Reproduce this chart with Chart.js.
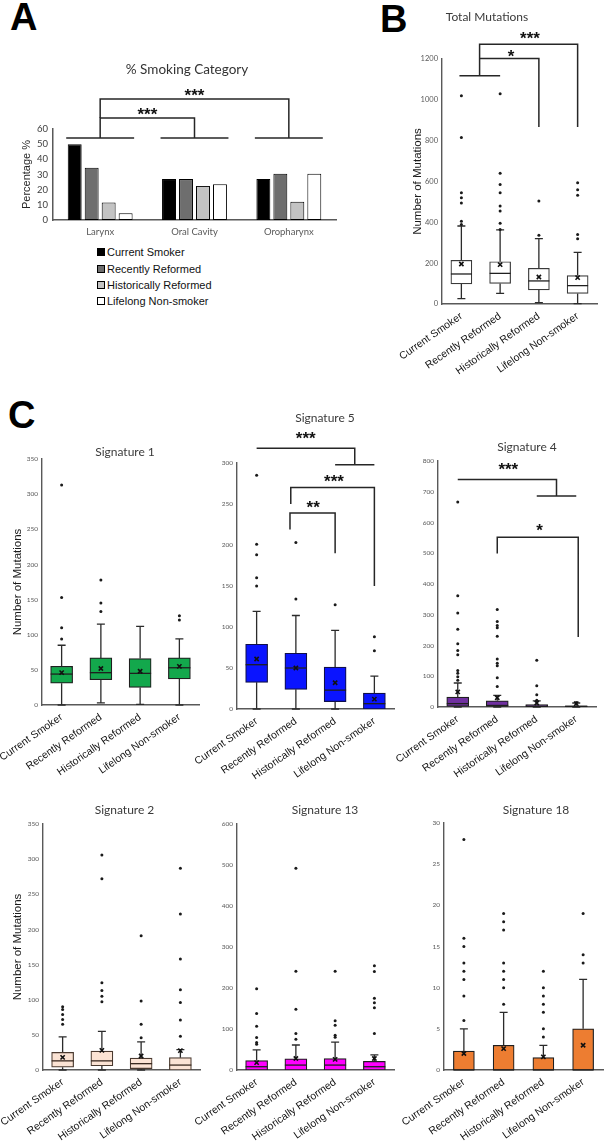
<!DOCTYPE html>
<html><head><meta charset="utf-8">
<script src="https://cdn.jsdelivr.net/npm/chart.js@4.4.1/dist/chart.umd.min.js"></script>
<style>
body{margin:0;width:605px;height:1148px;position:relative;background:#fff;overflow:hidden;font-family:'Liberation Sans',Arial,sans-serif}
canvas.c{position:absolute}
.letter{position:absolute;font:bold 38px/38px 'Liberation Sans',Arial,sans-serif;color:#000}
#legA{position:absolute;left:97px;top:244px;font:11px 'Liberation Sans',Arial,sans-serif;color:#111}
#legA .row{height:16.4px;display:flex;align-items:center;white-space:nowrap}
#legA .sq{width:6px;height:6px;border:1px solid #000;margin-right:2px;flex:none}
</style></head><body>
<div class="letter" style="left:10px;top:-2px">A</div>
<div class="letter" style="left:380px;top:0px">B</div>
<div class="letter" style="left:8px;top:396px">C</div>
<div id="legA"></div>
<script>
// ---------- DATA ----------
const groups = ['Current Smoker', 'Recently Reformed', 'Historically Reformed', 'Lifelong Non-smoker'];
const groupColorsA = ['#000000', '#6e6e6e', '#c3c3c3', '#ffffff'];

// Panel A: % smoking category per site
const sites = ['Larynx', 'Oral Cavity', 'Oropharynx'];
const pctCurrent = [50, 27, 27];
const pctRecently = [34.5, 27, 30.5];
const pctHistorically = [11.5, 22.5, 12];
const pctLifelong = [4.5, 23.5, 30.5];

// Panel B: Total mutations
const totMin = [26, 52, 7, 2];
const totQ1 = [98, 101, 69, 52];
const totMedian = [147, 150, 113, 90];
const totQ3 = [214, 207, 175, 139];
const totMax = [382, 363, 320, 253];
const totMean = [196, 193, 132, 129];
const totOutliers = [[1020, 815, 545, 520, 495, 405, 390], [1030, 640, 585, 545, 480, 455, 395, 365], [505, 337], [594, 559, 533, 341, 320]];

// Signature 1
const s1Min = [0, 3, 1, 0];
const s1Q1 = [31, 36, 25, 37];
const s1Median = [44, 46, 45, 53];
const s1Q3 = [55, 67, 66, 67];
const s1Max = [85, 115, 112, 94];
const s1Mean = [46, 52, 48, 55];
const s1Outliers = [[313, 153, 110, 94], [178, 145, 133], [], [127, 121]];

// Signature 5
const s5Min = [0, 0, 0, 0];
const s5Q1 = [32.5, 24, 9, 0];
const s5Median = [54, 50, 23, 6.5];
const s5Q3 = [79, 68, 51, 19.5];
const s5Max = [119, 114, 96, 40];
const s5Mean = [61, 50, 32, 12];
const s5Outliers = [[285, 201, 188, 160, 150], [203, 134], [127], [88, 71]];

// Signature 4
const s4Min = [0, 0, 0, 0];
const s4Q1 = [2, 2, 1, 1];
const s4Median = [11, 5, 3, 2];
const s4Q3 = [32, 20, 8, 4];
const s4Max = [78, 38, 20, 13];
const s4Mean = [49, 30, 13, 11];
const s4Outliers = [[667, 362, 306, 253, 206, 184, 170, 119, 110, 98, 87], [317, 278, 265, 258, 230, 156, 142, 134, 95, 67], [152, 69, 40, 22], [15]];

// Signature 2
const s2Min = [0, 0, 0, 0];
const s2Q1 = [4, 6, 2, 0];
const s2Median = [13, 13, 9, 7];
const s2Q3 = [25, 27, 17, 17.5];
const s2Max = [47, 55, 40, 29];
const s2Mean = [18, 28, 20, 27.5];
const s2Outliers = [[90, 86, 79, 72, 65], [306, 272, 124, 113, 105, 97], [191, 98, 65, 46], [287, 222, 158, 114, 96, 71, 48]];

// Signature 13
const s13Min = [0, 0, 0, 0];
const s13Q1 = [0, 0, 0, 0];
const s13Median = [8, 12, 12, 8];
const s13Q3 = [23, 27, 28, 21];
const s13Max = [49, 61, 68, 37];
const s13Mean = [18, 28, 26, 28];
const s13Outliers = [[198, 138, 107, 79, 67, 63], [492, 241, 148, 89, 75], [241, 120, 109, 85, 80], [254, 240, 175, 164, 152, 89]];

// Signature 18
const s18Min = [0, 0, 0, 0];
const s18Q1 = [0, 0, 0, 0];
const s18Median = [0, 0, 0, 0];
const s18Q3 = [2.3, 3, 1.5, 5];
const s18Max = [5, 7, 3, 11];
const s18Mean = [2, 2.6, 1.6, 3];
const s18Outliers = [[28, 16, 15, 13, 12, 11, 9, 6], [19, 18, 17, 13, 12, 11, 10, 8], [12, 10, 9, 8, 7, 5, 4], [19, 14, 13]];

// significance brackets: polylines in (category index, value) units, and star labels
const bracketsA = [[[-0.36, 54], [0.36, 54]], [[0.64, 54], [1.36, 54]], [[1.64, 54], [2.36, 54]],
  [[0, 54], [0, 67.3], [1, 67.3], [1, 54]], [[0, 67.3], [0, 79.8], [2, 79.8], [2, 54]]];
const starsA = [['***', 0.5, 72.5], ['***', 1, 85]];
const bracketsB = [[[-0.05, 1118], [1.0, 1118]], [[0.47, 1118], [0.47, 1272], [3, 1272], [3, 867]], [[0.47, 1203], [2, 1203], [2, 867]]];
const starsB = [['***', 1.77, 1322], ['*', 1.28, 1234]];
const brackets5 = [[[0, 318], [2.5, 318], [2.5, 298]], [[2, 298], [3, 298]],
  [[0.87, 250], [0.87, 270], [3, 270], [3, 150]], [[0.85, 219], [0.85, 239], [2, 239], [2, 190]]];
const stars5 = [['***', 1.25, 335], ['***', 1.97, 283], ['**', 1.44, 251]];
const brackets4 = [[[0, 740], [2.5, 740], [2.5, 686]], [[2, 686], [3, 686]], [[1, 499], [1, 552], [3.05, 552], [3.05, 228]]];
const stars4 = [['***', 1.28, 787], ['*', 2.07, 589]];

// ---------- HELPERS ----------
const INK = '#262626';
function place(rect) {
  const c = document.createElement('canvas');
  c.className = 'c'; c.width = rect.w; c.height = rect.h;
  c.style.left = rect.x + 'px'; c.style.top = rect.y + 'px';
  c.style.width = rect.w + 'px'; c.style.height = rect.h + 'px';
  document.body.appendChild(c);
  return c;
}
function titleMover(tx, ty) {
  return { id: 'titleMover', afterLayout(chart) {
    const t = chart.titleBlock; if (!t) return;
    const w = t.right - t.left, h = t.bottom - t.top;
    t.left = tx - w / 2; t.right = tx + w / 2; t.top = ty - h / 2; t.bottom = ty + h / 2;
  } };
}
function bracketPlugin(lines, stars) {
  return { id: 'sigBrackets', afterDraw(chart) {
    const xs = chart.scales.x, ys = chart.scales.y, ctx = chart.ctx;
    ctx.save();
    ctx.strokeStyle = INK; ctx.lineWidth = 1.5; ctx.lineJoin = 'miter';
    lines.forEach(pl => {
      ctx.beginPath();
      pl.forEach((p, k) => {
        const px = xs.getPixelForValue(p[0]), py = ys.getPixelForValue(p[1]);
        k ? ctx.lineTo(px, py) : ctx.moveTo(px, py);
      });
      ctx.stroke();
    });
    const fs = 17;
    ctx.font = 'bold ' + fs + 'px "Liberation Sans", Arial, sans-serif';
    ctx.fillStyle = '#111'; ctx.textAlign = 'center'; ctx.textBaseline = 'alphabetic';
    stars.forEach(s => {
      ctx.fillText(s[0], xs.getPixelForValue(s[1]), ys.getPixelForValue(s[2]) + 0.58 * fs);
    });
    ctx.restore();
  } };
}
const boxParts = {
  id: 'boxParts',
  beforeDatasetsDraw(chart) {
    const ys = chart.scales.y, ctx = chart.ctx;
    chart.data.datasets.forEach((ds, di) => {
      if (!ds.boxStats) return;
      const s = ds.boxStats, meta = chart.getDatasetMeta(di), cap = 4;
      ctx.save(); ctx.strokeStyle = ds.whiskerColor; ctx.lineWidth = 1.3;
      meta.data.forEach((bar, i) => {
        const x = bar.x;
        const yq1 = ys.getPixelForValue(s.q1[i]), yq3 = ys.getPixelForValue(s.q3[i]);
        const ymin = ys.getPixelForValue(s.min[i]), ymax = ys.getPixelForValue(s.max[i]);
        ctx.beginPath();
        if (s.max[i] > s.q3[i]) { ctx.moveTo(x, yq3); ctx.lineTo(x, ymax); ctx.moveTo(x - cap, ymax); ctx.lineTo(x + cap, ymax); }
        if (s.min[i] < s.q1[i]) { ctx.moveTo(x, yq1); ctx.lineTo(x, ymin); ctx.moveTo(x - cap, ymin); ctx.lineTo(x + cap, ymin); }
        ctx.stroke();
      });
      ctx.restore();
    });
  },
  afterDatasetDraw(chart, args) {
    const ds = chart.data.datasets[args.index];
    if (!ds.boxStats) return;
    const ys = chart.scales.y, ctx = chart.ctx, s = ds.boxStats;
    ctx.save(); ctx.strokeStyle = ds.medianColor; ctx.lineWidth = 1.3;
    args.meta.data.forEach((bar, i) => {
      const y = ys.getPixelForValue(s.median[i]), hw = bar.width / 2;
      ctx.beginPath(); ctx.moveTo(bar.x - hw, y); ctx.lineTo(bar.x + hw, y); ctx.stroke();
    });
    ctx.restore();
  }
};

function boxPlot(o) {
  const { rect, area, title, titlePos, yMax, yStep, stats, fill, yTitle, yTitleX, tickSize } = o;
  const c = place(rect);
  const TLH = 12 * 1.2, YLH = 11.5 * 1.2;
  const boxData = groups.map((g, i) => [stats.q1[i], stats.q3[i]]);
  const outData = [];
  stats.outliers.forEach((arr, i) => arr.forEach(v => outData.push({ x: groups[i], y: v })));
  const plugins = [boxParts, titleMover(titlePos[0] - rect.x, titlePos[1] - rect.y)];
  if (o.lines) plugins.push(bracketPlugin(o.lines, o.stars));
  new Chart(c, {
    type: 'bar',
    data: { labels: groups, datasets: [
      { type: 'bar', data: boxData, backgroundColor: fill, borderColor: o.edge || '#1f1f1f', borderWidth: 1.2,
        borderSkipped: false, barThickness: o.bw || 22, order: 3, boxStats: stats,
        whiskerColor: '#2b2b2b', medianColor: o.medianColor || '#1f1f1f' },
      { type: 'line', label: 'mean', data: stats.mean, showLine: false, pointStyle: 'crossRot', pointRadius: 3,
        pointBorderWidth: 1.6, pointBorderColor: '#111', pointBackgroundColor: '#111', order: 1 },
      { type: 'line', label: 'outliers', data: outData, showLine: false, pointStyle: 'circle', pointRadius: 1.5,
        pointBorderWidth: 0, pointBackgroundColor: '#1a1a1a', order: 2 }
    ] },
    options: {
      responsive: false, animation: false, devicePixelRatio: 1,
      layout: { autoPadding: false, padding: { top: area.t - rect.y - TLH, left: 0, right: rect.x + rect.w - area.r, bottom: 0 } },
      plugins: {
        legend: { display: false }, tooltip: { enabled: false },
        title: { display: true, text: title, padding: 0, color: '#3a3a3a',
          font: { family: 'Lato, "Open Sans", sans-serif', size: 12, weight: 'normal', lineHeight: 1.2 } }
      },
      scales: {
        x: { grid: { display: false, drawTicks: false }, border: { display: true, color: '#595959', width: 1.4 },
          ticks: { autoSkip: false, minRotation: 35, maxRotation: 35, padding: 6, color: '#111',
            font: { family: '"Liberation Sans", Arial, sans-serif', size: 10.5 } },
          afterFit(s) { s.height = rect.y + rect.h - area.b; s.paddingLeft = 0; s.paddingRight = 0; } },
        y: { min: 0, max: yMax, grid: { display: false, drawTicks: false }, border: { display: true, color: '#595959', width: 1.4 },
          ticks: { stepSize: yStep, padding: 4, color: '#595959', format: { useGrouping: false },
            font: { family: 'Lato, sans-serif', size: tickSize || 6.5 } },
          title: { display: !!yTitle, text: yTitle || '', color: '#1a1a1a',
            font: { family: '"Liberation Sans", Arial, sans-serif', size: 11.5, lineHeight: 1.2 },
            padding: { top: (yTitleX || 0) - rect.x - YLH / 2, bottom: 0 } },
          afterFit(s) { s.width = area.l - rect.x; s.paddingTop = 0; s.paddingBottom = 0; } }
      }
    },
    plugins
  });
}

// ---------- PANEL A ----------
(function () {
  const rect = { x: 0, y: 40, w: 345, h: 205 }, area = { l: 53, r: 336, t: 129, b: 220 };
  const TLH = 13.5 * 1.2, YLH = 11 * 1.2;
  const c = place(rect);
  const series = [pctCurrent, pctRecently, pctHistorically, pctLifelong];
  new Chart(c, {
    type: 'bar',
    data: { labels: sites, datasets: series.map((d, k) => ({
      label: groups[k], data: d, backgroundColor: groupColorsA[k], borderColor: '#000', borderWidth: 1,
      borderSkipped: false, categoryPercentage: 0.72, barPercentage: 0.82 })) },
    options: {
      responsive: false, animation: false, devicePixelRatio: 1,
      layout: { autoPadding: false, padding: { top: area.t - rect.y - TLH, left: 0, right: rect.x + rect.w - area.r, bottom: 0 } },
      plugins: {
        legend: { display: false }, tooltip: { enabled: false },
        title: { display: true, text: '% Smoking Category', padding: 0, color: '#333',
          font: { family: 'Lato, "Open Sans", sans-serif', size: 13.5, weight: 'normal', lineHeight: 1.2 } }
      },
      scales: {
        x: { grid: { display: false, drawTicks: false }, border: { display: true, color: '#595959', width: 1.5 },
          ticks: { padding: 6, color: '#595959', font: { family: 'Lato, sans-serif', size: 9.5 } },
          afterFit(s) { s.height = rect.y + rect.h - area.b; } },
        y: { min: 0, max: 60, grid: { display: false, drawTicks: false }, border: { display: true, color: '#595959', width: 1.5 },
          ticks: { stepSize: 10, padding: 5, color: '#404040', font: { family: 'Lato, sans-serif', size: 9.5 } },
          title: { display: true, text: 'Percentage %', color: '#262626',
            font: { family: '"Liberation Sans", Arial, sans-serif', size: 11, lineHeight: 1.2 },
            padding: { top: 27 - rect.x - YLH / 2, bottom: 0 } },
          afterFit(s) { s.width = area.l - rect.x; } }
      }
    },
    plugins: [titleMover(187 - rect.x, 70 - rect.y), bracketPlugin(bracketsA, starsA)]
  });
  const leg = document.getElementById('legA');
  groups.forEach((g, k) => {
    const row = document.createElement('div'); row.className = 'row';
    const sq = document.createElement('span'); sq.className = 'sq'; sq.style.background = groupColorsA[k];
    const tx = document.createElement('span'); tx.textContent = g;
    row.appendChild(sq); row.appendChild(tx); leg.appendChild(row);
  });
})();

// ---------- PANEL B ----------
boxPlot({ rect: { x: 374, y: 0, w: 231, h: 392 }, area: { l: 442, r: 597, t: 59, b: 304 },
  title: 'Total Mutations', titlePos: [487, 17], yMax: 1200, yStep: 200, tickSize: 7.5,
  stats: { min: totMin, q1: totQ1, median: totMedian, q3: totQ3, max: totMax, mean: totMean, outliers: totOutliers },
  fill: '#ffffff', edge: '#3a3a3a', bw: 21, yTitle: 'Number of Mutations', yTitleX: 417.5,
  lines: bracketsB, stars: starsB });

// ---------- PANEL C ----------
boxPlot({ rect: { x: 0, y: 440, w: 205, h: 350 }, area: { l: 42, r: 199, t: 459, b: 705 },
  title: 'Signature 1', titlePos: [125, 452], yMax: 350, yStep: 50,
  stats: { min: s1Min, q1: s1Q1, median: s1Median, q3: s1Q3, max: s1Max, mean: s1Mean, outliers: s1Outliers },
  fill: '#13a84c', yTitle: 'Number of Mutations', yTitleX: 18 });

boxPlot({ rect: { x: 185, y: 400, w: 215, h: 390 }, area: { l: 237, r: 394, t: 463, b: 709 },
  title: 'Signature 5', titlePos: [325, 418], yMax: 300, yStep: 50,
  stats: { min: s5Min, q1: s5Q1, median: s5Median, q3: s5Q3, max: s5Max, mean: s5Mean, outliers: s5Outliers },
  fill: '#0a14ff', edge: '#10104a', lines: brackets5, stars: stars5 });

boxPlot({ rect: { x: 380, y: 400, w: 225, h: 390 }, area: { l: 438, r: 596, t: 461, b: 707 },
  title: 'Signature 4', titlePos: [527, 447], yMax: 800, yStep: 100,
  stats: { min: s4Min, q1: s4Q1, median: s4Median, q3: s4Q3, max: s4Max, mean: s4Mean, outliers: s4Outliers },
  fill: '#7030a0', lines: brackets4, stars: stars4 });

boxPlot({ rect: { x: 0, y: 795, w: 205, h: 353 }, area: { l: 43, r: 200, t: 824, b: 1070 },
  title: 'Signature 2', titlePos: [124.5, 810], yMax: 350, yStep: 50,
  stats: { min: s2Min, q1: s2Q1, median: s2Median, q3: s2Q3, max: s2Max, mean: s2Mean, outliers: s2Outliers },
  fill: '#fbe3d4', edge: '#4a3a30', medianColor: '#3a2a20', yTitle: 'Number of Mutations', yTitleX: 18 });

boxPlot({ rect: { x: 185, y: 795, w: 215, h: 353 }, area: { l: 237, r: 394, t: 824, b: 1070 },
  title: 'Signature 13', titlePos: [325, 810], yMax: 600, yStep: 100,
  stats: { min: s13Min, q1: s13Q1, median: s13Median, q3: s13Q3, max: s13Max, mean: s13Mean, outliers: s13Outliers },
  fill: '#ff00ff' });

boxPlot({ rect: { x: 380, y: 795, w: 225, h: 353 }, area: { l: 444, r: 603, t: 823, b: 1070 },
  title: 'Signature 18', titlePos: [536, 810], yMax: 30, yStep: 5, bw: 21,
  stats: { min: s18Min, q1: s18Q1, median: s18Median, q3: s18Q3, max: s18Max, mean: s18Mean, outliers: s18Outliers },
  fill: '#ed7d31' });
</script>
</body></html>
